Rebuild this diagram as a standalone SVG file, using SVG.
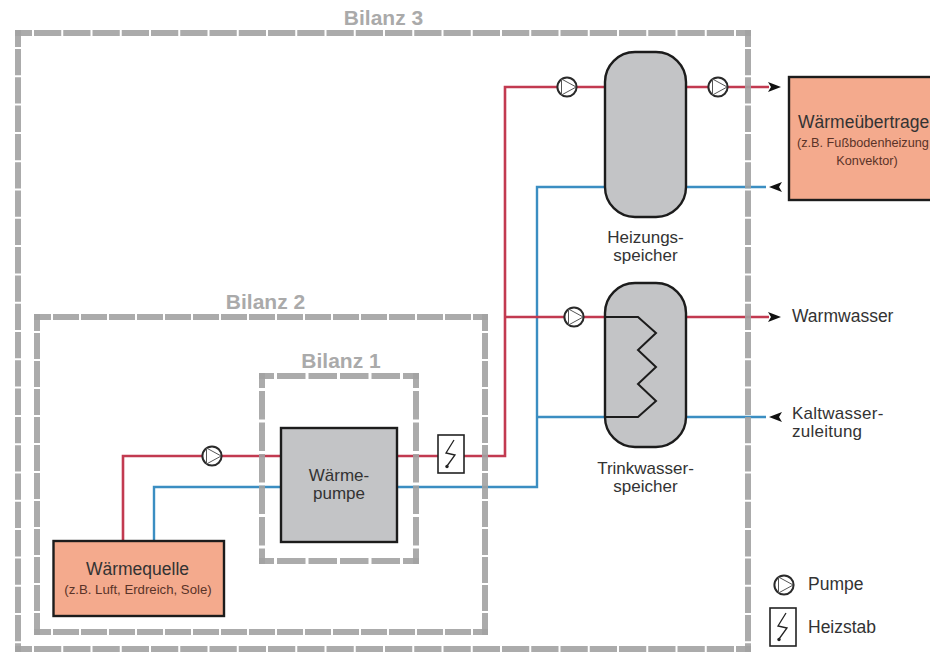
<svg xmlns="http://www.w3.org/2000/svg" width="930" height="652" viewBox="0 0 930 652">
<style>
text{font-family:"Liberation Sans",Arial,sans-serif;fill:#333}
.big{font-size:17.500px}
.two{font-size:17px}
.small{font-size:12.700px;fill:#5a3328}
.source{font-size:13.200px;fill:#5a3328}
.mid{text-anchor:middle}
.title{font-size:21px;font-weight:bold;fill:#aaa;text-anchor:middle}
.red{fill:none;stroke:#c23a50;stroke-width:2.6}
.blue{fill:none;stroke:#3b8ec2;stroke-width:2.4}
.tank{fill:#c3c4c6;stroke:#1c1c1c;stroke-width:2.4}
.hot{fill:#f4aa8d;stroke:#1c1c1c;stroke-width:2.4}
.pump{fill:#fff;stroke:#2a2a2a;stroke-width:2}
.heat{fill:#fff;stroke:#222;stroke-width:1.6}
.bolt{fill:none;stroke:#222;stroke-width:1.3}
.b3h{fill:none;stroke:#a2a2a2;stroke-opacity:.9;stroke-width:6;stroke-dasharray:27.25 2;stroke-dashoffset:10.25}
.b3v{fill:none;stroke:#a2a2a2;stroke-opacity:.9;stroke-width:6;stroke-dasharray:26.3 2;stroke-dashoffset:9.3}
.b2{fill:none;stroke:#a2a2a2;stroke-opacity:.9;stroke-width:6;stroke-dasharray:26 2;stroke-dashoffset:9}
.b1{fill:none;stroke:#a2a2a2;stroke-opacity:.9;stroke-width:6;stroke-dasharray:28.5 3;stroke-dashoffset:13.5}
</style>
<defs>
<g id="pumpSym"><circle r="9.6" class="pump"/><path d="M-5.5 -8V8L9.2 0Z" fill="none" stroke="#555" stroke-width="1"/></g>
<g id="heatSym"><rect x="-13" y="-19" width="26" height="38" class="heat"/><path d="M3 -14L-5 -1L4 1L-4 12" class="bolt"/><circle cx="-4" cy="12.500" r="1.700" fill="#222"/></g>
</defs>
<g id="connectors">
<path class="red" d="M123 541V456H281"/>
<path class="blue" d="M154 541V487H281"/>
<path class="red" d="M397 456H505V87H605"/>
<path class="blue" d="M397 487H537V187H605"/>
<path class="red" d="M505 317H605"/>
<path class="blue" d="M537 417H605"/>
<path class="red" d="M686 87H769"/>
<path class="blue" d="M686 187H766"/>
<path class="red" d="M686 317H769"/>
<path class="blue" d="M686 417H766"/>
<path d="M768 82L781 87L768 92L771 87Z" fill="#111"/>
<path d="M769 187L782 182L779 187L782 192Z" fill="#111"/>
<path d="M768 312L781 317L768 322L771 317Z" fill="#111"/>
<path d="M769 417L782 412L779 417L782 422Z" fill="#111"/>
</g>
<g id="bilanz3">
<path class="b3h" d="M15 33H751"/><path class="b3h" d="M15 649H751"/>
<path class="b3v" d="M18 30V652"/><path class="b3v" d="M748 30V652"/>
<text x="383.500" y="25" class="title">Bilanz 3</text>
</g>
<g id="bilanz2">
<path class="b2" d="M34 317H488"/><path class="b2" d="M34 632H488"/>
<path class="b2" d="M37 314V635"/><path class="b2" d="M485 314V635"/>
<text x="265.500" y="309" class="title">Bilanz 2</text>
</g>
<g id="bilanz1">
<path class="b1" d="M259 376H419"/><path class="b1" d="M259 561H419"/>
<path class="b1" d="M262 373V564"/><path class="b1" d="M416 373V564"/>
<text x="341" y="368" class="title">Bilanz 1</text>
</g>
<g id="waermequelle">
<rect x="53.500" y="541" width="170.500" height="75" class="hot"/>
<text x="137.500" y="575" class="big mid">Wärmequelle</text>
<text x="138" y="594" class="source mid">(z.B. Luft, Erdreich, Sole)</text>
</g>
<g id="waermepumpe">
<rect x="281" y="428" width="116" height="114" class="tank"/>
<text x="339" y="481" class="two mid">Wärme-</text>
<text x="339" y="499" class="two mid">pumpe</text>
</g>
<g id="heizstab"><use href="#heatSym" x="451" y="454"/></g>
<g id="pumpe1"><use href="#pumpSym" x="212" y="456"/></g>
<g id="pumpe2"><use href="#pumpSym" x="567" y="87"/></g>
<g id="pumpe3"><use href="#pumpSym" x="718" y="87"/></g>
<g id="pumpe4"><use href="#pumpSym" x="574" y="317"/></g>
<g id="heizungsspeicher">
<rect x="605" y="52" width="81" height="165" rx="30" ry="30" class="tank"/>
<text x="645.500" y="243" class="two mid">Heizungs-</text>
<text x="645.500" y="261" class="two mid">speicher</text>
</g>
<g id="trinkwasserspeicher">
<rect x="605" y="283" width="81" height="164" rx="30" ry="30" class="tank"/>
<path d="M605 317H638L656 333L638 350L656 367L638 384L656 401L638 417H605" fill="none" stroke="#1c1c1c" stroke-width="2"/>
<text x="645.500" y="474" class="two mid">Trinkwasser-</text>
<text x="645.500" y="492" class="two mid">speicher</text>
</g>
<g id="waermeuebertrager">
<rect x="789" y="77" width="160" height="123" class="hot"/>
<text x="798" y="128" class="big">Wärmeübertrage</text>
<text x="797" y="147" class="small">(z.B. Fußbodenheizung</text>
<text x="867" y="165" class="small mid">Konvektor)</text>
</g>
<g id="warmwasser"><text x="792" y="322" class="big">Warmwasser</text></g>
<g id="kaltwasser">
<text x="792" y="419" class="two" letter-spacing=".25">Kaltwasser-</text>
<text x="792" y="437" class="two" letter-spacing=".25">zuleitung</text>
</g>
<g id="legende">
<use href="#pumpSym" x="784" y="585"/>
<text x="808" y="590" class="big">Pumpe</text>
<use href="#heatSym" x="783" y="627"/>
<text x="808" y="633" class="big">Heizstab</text>
</g>
</svg>
